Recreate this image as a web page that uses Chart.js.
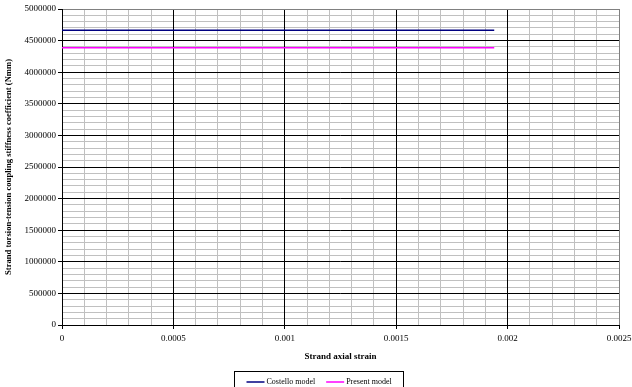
<!DOCTYPE html>
<html>
<head>
<meta charset="utf-8">
<script src="https://cdn.jsdelivr.net/npm/chart.js@4/dist/chart.umd.min.js"></script>
<style>
  html, body { margin: 0; padding: 0; background: #fff; }
  canvas { display: block; }
</style>
</head>
<body>
<canvas id="chart1" width="632" height="387"></canvas>
<script>
// data
const strain = [0, 0.00025, 0.0005, 0.00075, 0.001, 0.00125, 0.0015, 0.00175, 0.00194];
const costello = [4662000, 4662000, 4662000, 4662000, 4662000, 4662000, 4662000, 4662000, 4662000];
const present = [4385000, 4385000, 4385000, 4385000, 4385000, 4385000, 4385000, 4385000, 4385000];
const seriesNames = ['Costello model', 'Present model'];
const seriesColors = ['#000080', '#ff00ff'];

const FONT = '"Liberation Serif", "Times New Roman", serif';

function pts(xs, ys){ return xs.map((x, i) => ({ x, y: ys[i] })); }

// minor grid is gray, last line is the plot border; majors come from overlay scales
function minorColor(ctx, count){ return ctx.index === count - 1 ? '#808080' : '#c0c0c0'; }
function majorColor(ctx, count){ return ctx.index === count - 1 ? '#808080' : '#000000'; }
function tickColor(ctx){ return ctx.index % 5 === 0 ? '#000000' : 'rgba(0,0,0,0)'; }

// overlay scale that only draws the black major lines, takes no room
function majorScale(axis, max, step, count){
  return {
    type: 'linear', axis, min: 0, max,
    position: axis === 'x' ? 'bottom' : 'left',
    afterFit(s){ if (axis === 'x') s.height = 0; else s.width = 0; s.paddingLeft = s.paddingRight = 0; },
    ticks: { stepSize: step, display: false, autoSkip: false },
    grid: { color: ctx => majorColor(ctx, count), drawTicks: false, z: -0.5, lineWidth: 1 },
    border: { display: false }
  };
}

// legend drawn as a boxed row under the axis title
const boxedLegend = {
  id: 'boxedLegend',
  afterDraw(chart){
    const ctx = chart.ctx;
    const sets = chart.data.datasets;
    ctx.save();
    ctx.font = '8px ' + FONT;
    const sample = 18, gap = 2, between = 11, pad = 12;
    const widths = sets.map(d => sample + gap + ctx.measureText(d.label).width);
    const total = widths.reduce((a, b) => a + b, 0) + between * (sets.length - 1);
    const boxW = total + pad * 2;
    const left = Math.round(318.5 - boxW / 2) + 0.5;
    const top = 371.5, cy = 382;
    ctx.strokeStyle = '#000';
    ctx.lineWidth = 1;
    ctx.strokeRect(left, top, Math.round(boxW), 20);
    let x = left + pad;
    sets.forEach((d, i) => {
      ctx.strokeStyle = d.borderColor;
      ctx.lineWidth = 1.5;
      ctx.beginPath();
      ctx.moveTo(x, cy);
      ctx.lineTo(x + sample, cy);
      ctx.stroke();
      ctx.fillStyle = '#000';
      ctx.textBaseline = 'middle';
      ctx.fillText(d.label, x + sample + gap, cy);
      x += widths[i] + between;
    });
    ctx.restore();
  }
};

const chart = new Chart(document.getElementById('chart1').getContext('2d'), {
  type: 'line',
  data: {
    datasets: [
      { label: seriesNames[0], data: pts(strain, costello), borderColor: seriesColors[0], backgroundColor: seriesColors[0], borderWidth: 1.5, pointRadius: 0, fill: false },
      { label: seriesNames[1], data: pts(strain, present), borderColor: seriesColors[1], backgroundColor: seriesColors[1], borderWidth: 1.5, pointRadius: 0, fill: false }
    ]
  },
  options: {
    responsive: false,
    animation: false,
    layout: { padding: { top: 9, right: 13, left: 0, bottom: 17 } },
    plugins: { legend: { display: false }, tooltip: { enabled: false } },
    scales: {
      x: {
        type: 'linear',
        min: 0, max: 0.0025,
        afterFit(axis){ axis.height = 45; axis.paddingLeft = 0; axis.paddingRight = 0; },
        ticks: {
          stepSize: 0.0001,
          autoSkip: false, maxRotation: 0, minRotation: 0,
          padding: 4,
          color: '#000',
          font: { family: FONT, size: 9 },
          callback(v, i){ return i % 5 === 0 ? String(Number(v.toPrecision(6))) : ''; }
        },
        grid: { color: ctx => minorColor(ctx, 26), tickColor: tickColor, tickLength: 4, lineWidth: 1 },
        border: { color: '#000', width: 1 },
        title: {
          display: true,
          text: 'Strand axial strain',
          color: '#000',
          font: { family: FONT, size: 9, weight: 'bold' },
          padding: { top: 0, bottom: 8 }
        }
      },
      y: {
        type: 'linear',
        min: 0, max: 5000000,
        afterFit(axis){ axis.width = 62; },
        ticks: {
          stepSize: 100000,
          autoSkip: false,
          padding: 2,
          color: '#000',
          font: { family: FONT, size: 9 },
          callback(v, i){ return i % 5 === 0 ? String(Math.round(v)) : ''; }
        },
        grid: { color: ctx => minorColor(ctx, 51), tickColor: tickColor, tickLength: 4, lineWidth: 1 },
        border: { color: '#000', width: 1 },
        title: {
          display: true,
          text: 'Strand torsion-tension coupling stiffness coefficient (Nmm)',
          color: '#000',
          font: { family: FONT, size: 8.6, weight: 'bold' },
          padding: { top: 4, bottom: 0 }
        }
      },
      xMajor: majorScale('x', 0.0025, 0.0005, 6),
      yMajor: majorScale('y', 5000000, 500000, 11)
    }
  },
  plugins: [boxedLegend]
});
</script>
</body>
</html>
